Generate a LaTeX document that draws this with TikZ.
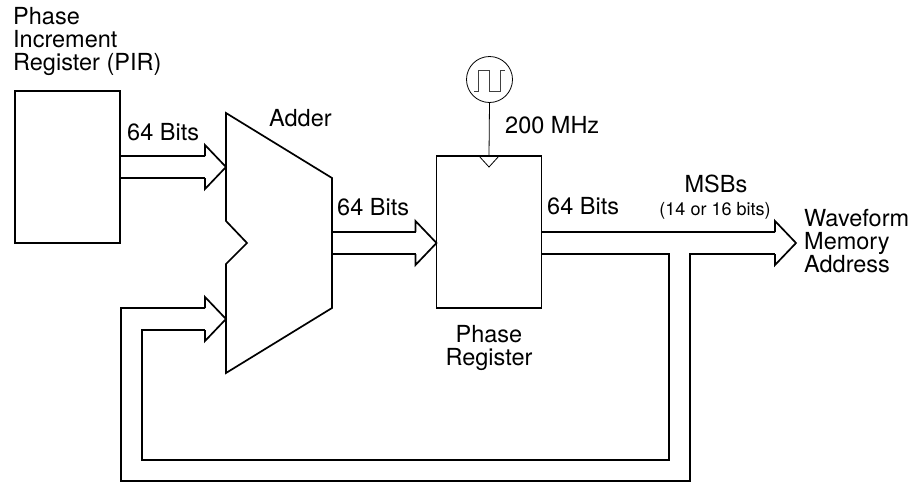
\documentclass[tikz,border=0pt]{standalone}
\usepackage{fontspec}
\setmainfont{TeX Gyre Heros}
\usetikzlibrary{calc}
\tikzset{
  heavy/.style={draw=black,line width=1.7pt,line join=miter},
  thin line/.style={draw=black,line width=0.8pt},
  lbl/.style={inner sep=0pt,font=\fontsize{23.5}{23}\selectfont,align=left},
  small lbl/.style={inner sep=0pt,font=\fontsize{18}{20}\selectfont},
  regbox/.style={heavy,fill=white,minimum width=105pt,minimum height=152pt,inner sep=0pt,outer sep=0pt,anchor=north west},
}
% hollow arrow: shaft half width 11, head half width 22
\newcommand{\headright}[1]{%
  ($(#1)+(-21,-11)$) -- ($(#1)+(-21,-22)$) -- (#1) -- ($(#1)+(-21,22)$) -- ($(#1)+(-21,11)$)}
\begin{document}
\begin{tikzpicture}[x=1pt,y=-1pt]
\useasboundingbox (0,0) rectangle (924,482);
\path[fill=white] (0,0) rectangle (924,482);

% PIR and phase register
\node[regbox] (pir) at (15,91) {};
\node[regbox] (preg) at (436.5,156) {};

% Adder outline
\coordinate (aTL) at (226,113);
\coordinate (aTR) at (332,178);
\coordinate (aBR) at (332,308);
\coordinate (aBL) at (226,373);
\coordinate (aN1) at (226,221);
\coordinate (aN2) at (247,243);
\coordinate (aN3) at (226,264);
\coordinate (aIn1) at (226,167);
\coordinate (aIn2) at (226,319);
\coordinate (aOut) at (332,243);
\path[heavy] (aTL) -- (aTR) -- (aBR) -- (aBL) -- (aN3) -- (aN2) -- (aN1) -- cycle;

% PIR -> adder
\draw[heavy] (pir.east |- 0,156) -- ($(aIn1)+(-21,-11)$);
\draw[heavy] (pir.east |- 0,178) -- ($(aIn1)+(-21,11)$);
\draw[heavy] \headright{aIn1};

% adder -> phase register
\coordinate (pIn) at (preg.west |- aOut);
\draw[heavy] ($(aOut)+(0,-11)$) -- ($(pIn)+(-21,-11)$);
\draw[heavy] ($(aOut)+(0,11)$) -- ($(pIn)+(-21,11)$);
\draw[heavy] \headright{pIn};

% phase register -> output, with the feedback branch
\coordinate (pOut) at (preg.east |- aOut);
\coordinate (oTip) at (796,243);
\draw[heavy] ($(pOut)+(0,-11)$) -- ($(oTip)+(-21,-11)$);
\draw[heavy] \headright{oTip};
\draw[heavy] ($(pOut)+(0,11)$) -- (669,254) -- (669,460) -- (142,460) -- (142,330) -- ($(aIn2)+(-21,11)$);
\draw[heavy] ($(oTip)+(-21,11)$) -- (690,254) -- (690,481) -- (121,481) -- (121,308) -- ($(aIn2)+(-21,-11)$);
\draw[heavy] \headright{aIn2};

% clock
\node[thin line,circle,minimum size=46pt,inner sep=0pt,outer sep=0pt] (clk) at (489.5,79.5) {};
\draw[thin line] (clk.south) -- (preg.north);
\draw[thin line] ($(preg.north)+(-10,0)$) -- ($(preg.north)+(0,11)$) -- ($(preg.north)+(10,0)$);
\draw[thin line,draw=black!75] (474,91) -- (478,91) -- (478,70) -- (489,70) -- (489,91) -- (500,91) -- (500,70) -- (505,70);

% labels
\node[lbl,anchor=north west] (tPIR) at (13,7) {Phase\\Increment\\Register (PIR)};
\node[lbl,anchor=base west] (tB1) at (127,140) {64 Bits};
\node[lbl,anchor=base west] (tAdd) at (269,126) {Adder};
\node[lbl,anchor=base west] (tB2) at (337,215) {64 Bits};
\node[lbl,anchor=base west] (tB3) at (547,214) {64 Bits};
\node[lbl,anchor=base west] (tMHz) at (505,133) {200 MHz};
\node[lbl,anchor=north,align=center] (tReg) at (489,325) {Phase\\Register};
\node[lbl,anchor=base] (tMSB) at (716,192) {MSBs};
\node[small lbl,anchor=base] (tBits) at (715,215) {(14 or 16 bits)};
\node[lbl,anchor=north west] (tWave) at (804,209) {Waveform\\Memory\\Address};
\end{tikzpicture}
\end{document}
